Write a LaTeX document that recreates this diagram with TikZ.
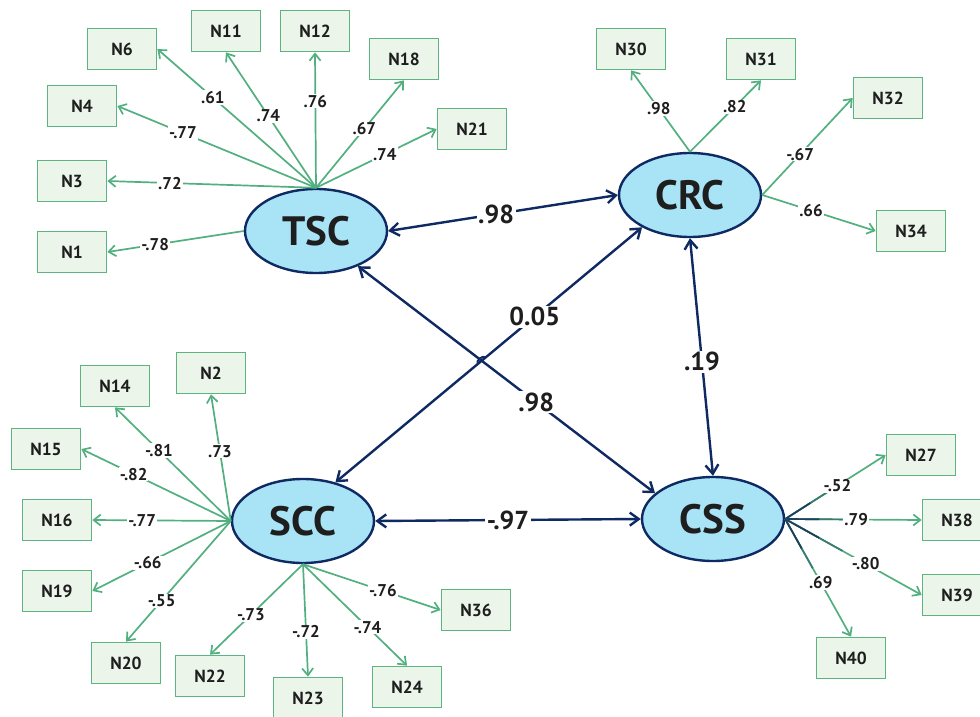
\documentclass[tikz,border=0pt]{standalone}
\usepackage{fontspec}
\setmainfont{PT Sans}
\usetikzlibrary{shapes.geometric,arrows.meta,calc,intersections}
\definecolor{navy}{HTML}{0F2A63}
\definecolor{lvfill}{HTML}{A8E4F6}
\definecolor{grn}{HTML}{52B080}
\definecolor{boxfill}{HTML}{EBF5EA}
\definecolor{boxline}{HTML}{5DB481}
\definecolor{txt}{HTML}{1E1E1E}
\definecolor{cssA}{HTML}{1F3F5E}
\definecolor{cssB}{HTML}{3A7A72}
\begin{document}
\begin{tikzpicture}[x=1pt,y=-1pt,
  latent/.style={ellipse,draw=navy,line width=2.4pt,fill=lvfill,minimum width=142pt,minimum height=84pt,inner sep=0pt,font=\fontsize{41}{41}\selectfont\bfseries,text=txt},
  ind/.style={rectangle,draw=boxline,line width=1.7pt,fill=boxfill,minimum width=69pt,minimum height=41pt,inner sep=0pt,font=\fontsize{17.5}{17.5}\selectfont\bfseries,text=txt},
  load/.style={draw=grn,line width=1.7pt,-{Straight Barb[length=7pt,width=11pt]}},
  struct/.style={draw=navy,line width=2.4pt,{Straight Barb[length=9pt,width=13pt]}-{Straight Barb[length=9pt,width=13pt]}},
  lbl/.style={fill=white,inner sep=1pt,font=\fontsize{17}{17}\selectfont\bfseries,text=txt},
  slbl/.style={fill=white,inner sep=1.5pt,font=\fontsize{26}{26}\selectfont\bfseries,text=txt},
  cssover/.style={line width=1.7pt}]
\useasboundingbox (0,0) rectangle (980,717);
\fill[white] (0,0) rectangle (980,717);
% latent variables
\node[latent] (TSC) at (316,231) {TSC};
\node[latent] (CRC) at (690,195) {CRC};
\node[latent] (SCC) at (303,521) {SCC};
\node[latent] (CSS) at (713,519) {CSS};
% indicators
\node[ind] (N6)  at (122,49)  {N6};
\node[ind] (N11) at (226,31)  {N11};
\node[ind] (N12) at (315,31)  {N12};
\node[ind] (N18) at (404,59)  {N18};
\node[ind] (N21) at (472,129) {N21};
\node[ind] (N4)  at (82,106)  {N4};
\node[ind] (N3)  at (72,181)  {N3};
\node[ind] (N1)  at (72,252)  {N1};
\node[ind] (N30) at (631,49)  {N30};
\node[ind] (N31) at (761,59)  {N31};
\node[ind] (N32) at (888,98)  {N32};
\node[ind] (N34) at (911,231) {N34};
\node[ind] (N14) at (115,386) {N14};
\node[ind] (N2)  at (211,373) {N2};
\node[ind] (N15) at (46,449)  {N15};
\node[ind] (N16) at (57,520)  {N16};
\node[ind] (N19) at (57,591)  {N19};
\node[ind] (N20) at (126,663) {N20};
\node[ind] (N22) at (210,676) {N22};
\node[ind] (N23) at (308,698) {N23};
\node[ind] (N24) at (407,687) {N24};
\node[ind] (N36) at (476,610) {N36};
\node[ind] (N27) at (921,455) {N27};
\node[ind] (N38) at (957,520) {N38};
\node[ind] (N39) at (957,595) {N39};
\node[ind] (N40) at (851,658) {N40};
% TSC loadings
\draw[load] (TSC.north) -- node[lbl,pos=0.65]{.61} (N6.east);
\draw[load] (TSC.north) -- node[lbl,pos=0.53]{.74} (N11.south);
\draw[load] (TSC.north) -- node[lbl,pos=0.64]{.76} (N12.south);
\draw[load] (TSC.north) -- node[lbl,pos=0.55]{.67} (N18.south);
\draw[load] (TSC.north) -- node[lbl,pos=0.57]{.74} (N21.west);
\draw[load] (TSC.north) -- node[lbl,pos=0.67]{-.77} (N4.east);
\draw[load] (TSC.north) -- node[lbl,pos=0.70]{.72} (N3.east);
\draw[load] (TSC.west) -- node[lbl,pos=0.65]{-.78} (N1.east);
% CRC loadings
\draw[load] (CRC.north) -- node[lbl,pos=0.53]{.98} (N30.south);
\draw[load] (CRC.north) -- node[lbl,pos=0.63]{.82} (N31.south);
\draw[load] (CRC.east) -- node[lbl,pos=0.42]{-.67} (N32.west);
\draw[load] (CRC.east) -- node[lbl,pos=0.43]{.66} (N34.west);
% SCC loadings
\draw[load] (SCC.west) -- node[lbl,pos=0.62]{-.81} (N14.south);
\draw[load] (SCC.west) -- node[lbl,pos=0.55]{.73} (N2.south);
\draw[load] (SCC.west) -- node[lbl,pos=0.65]{-.82} (N15.east);
\draw[load] (SCC.west) -- node[lbl,pos=0.64]{-.77} (N16.east);
\draw[load] (SCC.west) -- node[lbl,pos=0.60]{-.66} (N19.east);
\draw[load] (SCC.west) -- node[lbl,pos=0.66]{-.55} (N20.north);
\draw[load] (SCC.south) -- node[lbl,pos=0.56]{-.73} (N22.north);
\draw[load] (SCC.south) -- node[lbl,pos=0.60]{-.72} (N23.north);
\draw[load] (SCC.south) -- node[lbl,pos=0.62]{-.74} (N24.north);
\draw[load] (SCC.south) -- node[lbl,pos=0.58]{-.76} (N36.west);
% CSS loadings
\draw[load] (CSS.east) -- (N27.west);
\draw[load] (CSS.east) -- (N38.west);
\draw[load] (CSS.east) -- (N39.west);
\draw[load] (CSS.east) -- (N40.north);
\foreach \t in {N27.west,N38.west,N39.west,N40.north}{
  \draw[cssover,cssB] (CSS.east) -- ($(CSS.east)!0.42!(\t)$);
  \draw[cssover,cssA] (CSS.east) -- ($(CSS.east)!0.25!(\t)$);
}
\path (CSS.east) -- node[lbl,pos=0.52]{-.52} (N27.west);
\path (CSS.east) -- node[lbl,pos=0.52]{.79} (N38.west);
\path (CSS.east) -- node[lbl,pos=0.59]{-.80} (N39.west);
\path (CSS.east) -- node[lbl,pos=0.54]{.69} (N40.north);
% structural paths
\draw[struct] (TSC.east) -- node[slbl,pos=0.47]{.98} (CRC.west);
\draw[struct,name path=tc] (TSC.-40) -- node[slbl,pos=0.60]{.98} (CSS.156);
\draw[struct,name path=sc] (SCC.50) -- node[slbl,pos=0.65]{0.05} (CRC.214);
\draw[struct] (CRC.south) -- node[slbl,pos=0.52]{.19} (CSS.north);
\draw[struct] (SCC.east) -- node[slbl,pos=0.50]{-.97} (CSS.west);
% small hop at the crossing
\path[name intersections={of=tc and sc,by=X}];
\draw[navy,line width=2pt] ($(X)!5pt!(SCC.50)$) to[bend left=90] ($(X)!5pt!(CRC.214)$);
\end{tikzpicture}
\end{document}
